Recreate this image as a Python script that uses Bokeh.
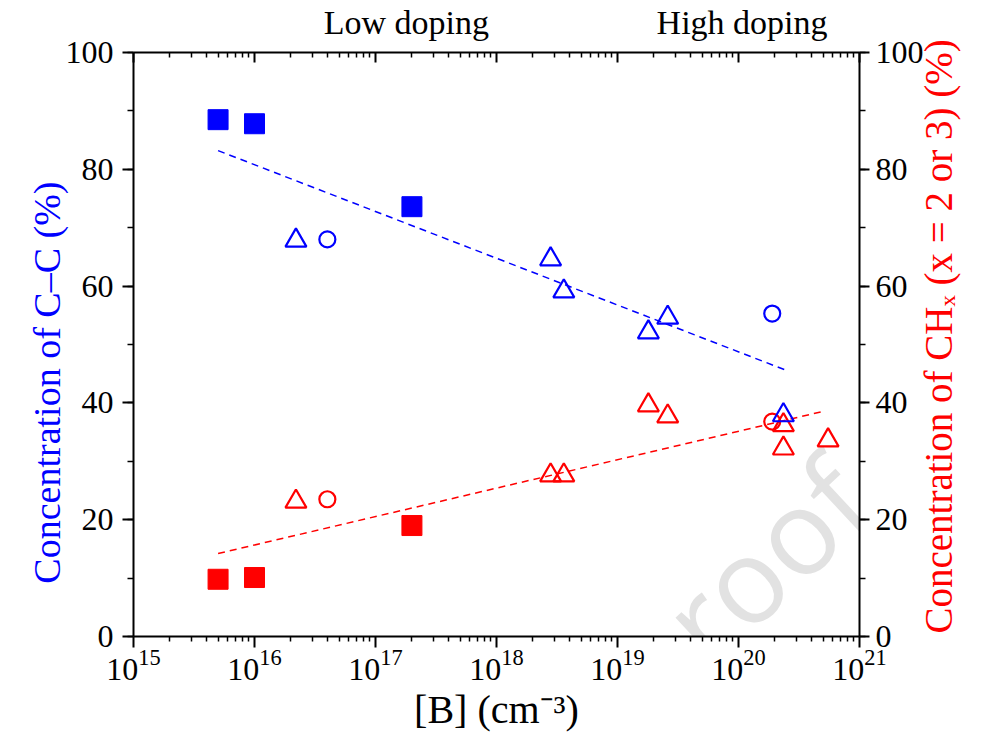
import math
from bokeh.plotting import figure
from bokeh.models import (LogAxis, LinearAxis, Range1d, FixedTicker,
                          SingleIntervalTicker, Label, CustomJSTickFormatter)
from bokeh.embed import file_html
from bokeh.resources import INLINE

# ---------------- data ----------------
# Blue: concentration of C-C (%)
cc_sq_x = [5e15, 1e16, 2e17]
cc_sq_y = [88.5, 87.8, 73.6]
cc_tri_x = [2.2e16, 2.8e18, 3.6e18, 1.8e19, 2.6e19, 2.35e20]
cc_tri_y = [67.8, 64.6, 59.1, 52.1, 54.6, 37.9]
cc_cir_x = [4.0e16, 1.9e20]
cc_cir_y = [68.0, 55.3]
cc_fit_x = [5e15, 2.4e20]
cc_fit_y = [83.2, 45.7]

# Red: concentration of CHx (%)
ch_sq_x = [5e15, 1e16, 2e17]
ch_sq_y = [9.8, 10.1, 19.0]
ch_tri_x = [2.2e16, 2.8e18, 3.6e18, 1.8e19, 2.6e19, 2.35e20, 2.35e20, 5.5e20]
ch_tri_y = [23.1, 27.6, 27.6, 39.6, 37.7, 36.2, 32.2, 33.6]
ch_cir_x = [4.0e16, 1.9e20]
ch_cir_y = [23.5, 36.8]
ch_fit_x = [5e15, 4.9e20]
ch_fit_y = [14.2, 38.5]

x_major = [10.0 ** k for k in range(15, 22)]
x_minor = [m * 10.0 ** k for k in range(15, 21) for m in range(2, 10)]

region_x = [1.8e17, 1.07e20]
region_labels = ["Low doping", "High doping"]

left_title = "Concentration of C–C (%)"
right_title = "Concentration of CHₓ (x = 2 or 3) (%)"

BLUE = "#0000ff"
RED = "#ff0000"
FONT = "Liberation Serif"

p = figure(width=984, height=744, x_axis_type="log",
           x_range=Range1d(1e15, 1e21), y_range=Range1d(0, 100),
           output_backend="svg", toolbar_location=None,
           min_border_left=133, min_border_right=125,
           min_border_top=52, min_border_bottom=108,
           x_axis_location=None, y_axis_location=None)
p.grid.visible = False
p.outline_line_color = None
p.extra_y_ranges = {"right": Range1d(0, 100)}

# watermark (drawn under the data, clipped to the frame)
p.add_layout(Label(x=8.1e20, y=26.7, text="proof", angle=43,
                   angle_units="deg", text_align="right",
                   text_baseline="alphabetic", text_color="#e2e2e2",
                   text_font="Open Sans", text_font_size="118px",
                   level="underlay"))

def style_axis(ax, tick_in, tick_out, minor_in, minor_out):
    ax.axis_line_width = 2
    ax.axis_line_color = "black"
    ax.major_tick_line_width = 2
    ax.minor_tick_line_width = 1.5
    ax.major_tick_in = tick_in
    ax.major_tick_out = tick_out
    ax.minor_tick_in = minor_in
    ax.minor_tick_out = minor_out
    ax.major_label_text_font = FONT
    ax.major_label_text_font_size = "32px"
    ax.major_label_text_color = "black"
    ax.axis_label_text_font = FONT
    ax.axis_label_text_font_size = "40px"
    ax.axis_label_text_font_style = "normal"
    ax.axis_label_text_color = "black"

def label_only(ax):
    ax.axis_line_color = None
    ax.major_tick_line_color = None
    ax.minor_tick_line_color = None

# bottom axis
xb = LogAxis(ticker=FixedTicker(ticks=x_major, minor_ticks=x_minor),
             axis_label="[B] (cm⁻³)")
style_axis(xb, 0, 11, 0, 5)
xb.major_label_standoff = 2
xb.axis_label_standoff = 4
p.add_layout(xb, "below")

# top axis (ticks only)
xt = LogAxis(ticker=FixedTicker(ticks=x_major, minor_ticks=x_minor),
             formatter=CustomJSTickFormatter(code="return ''"))
style_axis(xt, 10, 0, 5, 0)
xt.major_label_text_font_size = "1px"
xt.major_label_standoff = 0
p.add_layout(xt, "above")

# top region labels
xr = LogAxis(ticker=FixedTicker(ticks=region_x, minor_ticks=[]),
             formatter=CustomJSTickFormatter(
                 args=dict(labels=region_labels),
                 code="return labels[index]"))
style_axis(xr, 0, 0, 0, 0)
label_only(xr)
xr.major_label_text_font_size = "34px"
xr.major_label_standoff = 12
p.add_layout(xr, "above")

# left axis
yl = LinearAxis(ticker=SingleIntervalTicker(interval=20, num_minor_ticks=2))
style_axis(yl, 0, 11, 0, 6)
yl.major_label_standoff = 9
p.add_layout(yl, "left")

# left title (rotated label)
ylt = LinearAxis(ticker=FixedTicker(ticks=[77.9], minor_ticks=[]),
                 formatter=CustomJSTickFormatter(
                     args=dict(t=left_title), code="return t"))
style_axis(ylt, 0, 0, 0, 0)
label_only(ylt)
ylt.major_label_text_font_size = "38px"
ylt.major_label_text_color = BLUE
ylt.major_label_orientation = math.pi / 2
ylt.major_label_standoff = 15
p.add_layout(ylt, "left")

# right axis
yr = LinearAxis(y_range_name="right",
                ticker=SingleIntervalTicker(interval=20, num_minor_ticks=2))
style_axis(yr, 0, 10, 0, 6)
yr.major_label_standoff = 6
p.add_layout(yr, "right")

# right title (rotated label starting at the bottom of the frame)
yrt = LinearAxis(y_range_name="right",
                 ticker=FixedTicker(ticks=[0.5], minor_ticks=[]),
                 formatter=CustomJSTickFormatter(
                     args=dict(t=right_title), code="return t"))
style_axis(yrt, 0, 0, 0, 0)
label_only(yrt)
yrt.major_label_text_font_size = "39px"
yrt.major_label_text_color = RED
yrt.major_label_orientation = math.pi / 2
yrt.major_label_standoff = 12
p.add_layout(yrt, "right")

# fit lines
p.line(cc_fit_x, cc_fit_y, line_color=BLUE, line_width=1.5, line_dash="7 5")
p.line(ch_fit_x, ch_fit_y, line_color=RED, line_width=1.5, line_dash="7 5")

# markers
p.scatter(cc_sq_x, cc_sq_y, marker="square", size=20, fill_color=BLUE, line_color=BLUE)
p.scatter(ch_sq_x, ch_sq_y, marker="square", size=20, fill_color=RED, line_color=RED)
p.scatter(ch_tri_x, ch_tri_y, marker="triangle", size=21, fill_color=None,
          line_color=RED, line_width=2.2)
p.scatter(ch_cir_x, ch_cir_y, marker="circle", size=16, fill_color=None,
          line_color=RED, line_width=2.2)
p.scatter(cc_tri_x, cc_tri_y, marker="triangle", size=21, fill_color=None,
          line_color=BLUE, line_width=2.2)
p.scatter(cc_cir_x, cc_cir_y, marker="circle", size=16, fill_color=None,
          line_color=BLUE, line_width=2.2)

open("out.html", "w").write(file_html(p, INLINE))
